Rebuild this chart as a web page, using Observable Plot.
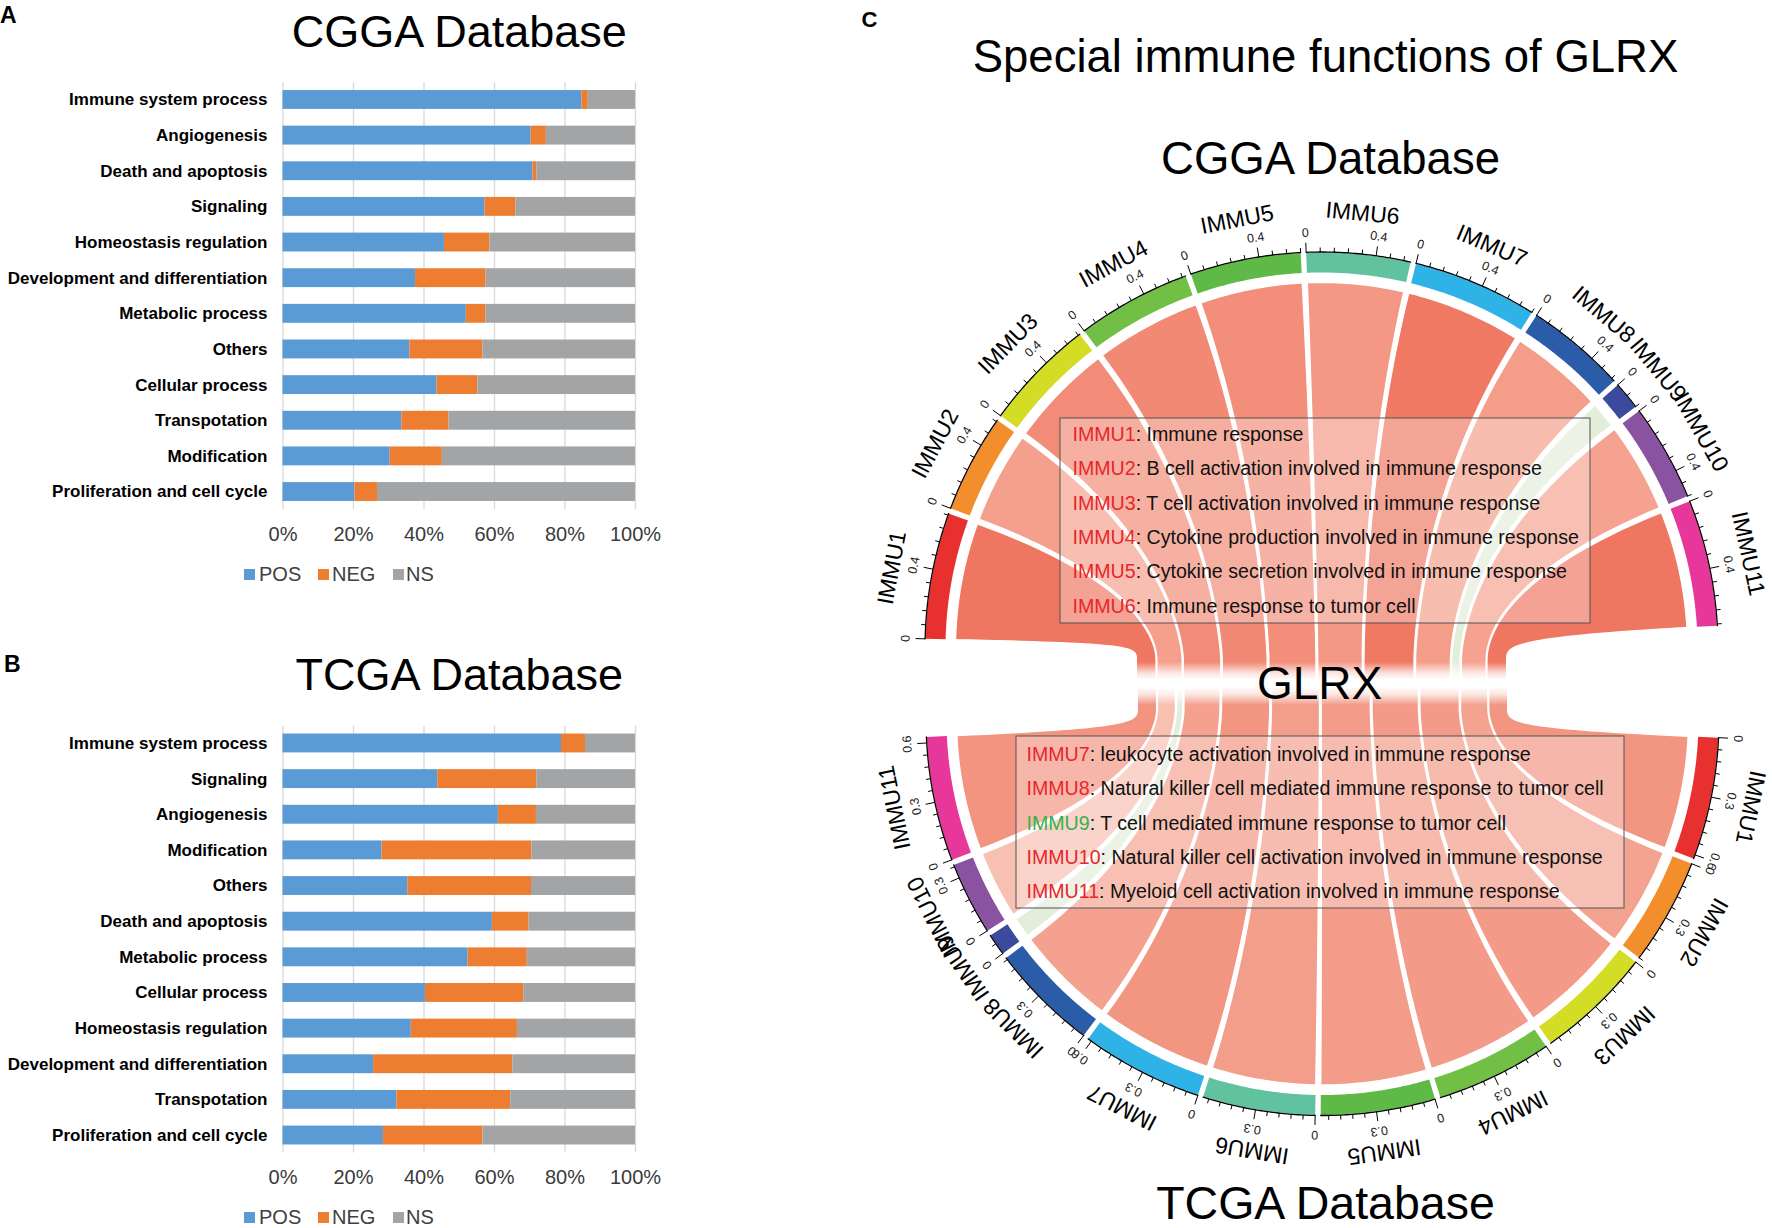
<!DOCTYPE html>
<html>
<head>
<meta charset="utf-8">
<script src="https://cdn.jsdelivr.net/npm/d3@7"></script>
<script src="https://cdn.jsdelivr.net/npm/@observablehq/plot@0.6"></script>
<style>
  html, body { margin: 0; padding: 0; background: #fff; }
  #page { position: relative; width: 1772px; height: 1228px; overflow: hidden; font-family: "Liberation Sans", Arial, Helvetica, sans-serif; background: #fff; }
  .abs { position: absolute; }
  .plabel { position: absolute; font-weight: bold; line-height: 1; color: #000; }
  .lg-sw { position: absolute; width: 11px; height: 11px; }
  .lg-tx { position: absolute; font-size: 20px; line-height: 1; color: #404040; white-space: nowrap; }
</style>
</head>
<body>
<div id="page"></div>
<script>
// ---------------- DATA ----------------
const seriesKeys = ["POS", "NEG", "NS"];
const seriesColors = ["#5b9bd5", "#ed7d31", "#a2a4a6"];
const percentTicks = [0, 20, 40, 60, 80, 100];

const cggaCategories = ["Immune system process", "Angiogenesis", "Death and apoptosis", "Signaling",
  "Homeostasis regulation", "Development and differentiation", "Metabolic process", "Others",
  "Cellular process", "Transpotation", "Modification", "Proliferation and cell cycle"];
const cggaPOS = [84.8, 70.4, 70.9, 57.3, 45.8, 37.6, 52.0, 36.0, 43.7, 33.7, 30.4, 20.4];
const cggaNEG = [1.8, 4.3, 1.1, 8.8, 12.9, 20.0, 5.6, 20.7, 11.6, 13.4, 14.8, 6.4];
const cggaNS  = [13.4, 25.3, 28.0, 33.9, 41.3, 42.4, 42.4, 43.3, 44.7, 52.9, 54.8, 73.2];

const tcgaCategories = ["Immune system process", "Signaling", "Angiogenesis", "Modification", "Others",
  "Death and apoptosis", "Metabolic process", "Cellular process", "Homeostasis regulation",
  "Development and differentiation", "Transpotation", "Proliferation and cell cycle"];
const tcgaPOS = [79.0, 43.9, 61.1, 28.1, 35.4, 59.4, 52.5, 40.4, 36.4, 25.7, 32.3, 28.5];
const tcgaNEG = [6.8, 28.1, 10.8, 42.5, 35.1, 10.4, 16.8, 27.9, 30.1, 39.5, 32.3, 28.2];
const tcgaNS  = [14.2, 28.0, 28.1, 29.4, 29.5, 30.2, 30.7, 31.7, 33.5, 34.8, 35.4, 43.3];

const immuNames = ["IMMU1", "IMMU2", "IMMU3", "IMMU4", "IMMU5", "IMMU6", "IMMU7", "IMMU8", "IMMU9", "IMMU10", "IMMU11"];
const immuDescriptions = ["Immune response", "B cell activation involved in immune response",
  "T cell activation involved in immune response", "Cytokine production involved in immune response",
  "Cytokine secretion involved in immune response", "Immune response to tumor cell",
  "leukocyte activation involved in immune response", "Natural killer cell mediated immune response to tumor cell",
  "T cell mediated immune response to tumor cell", "Natural killer cell activation involved in immune response",
  "Myeloid cell activation involved in immune response"];
const immuColors = ["#e8302e", "#f28e2b", "#d4dd25", "#72bf45", "#5fb947", "#60c29f", "#2fb2e6", "#2a5ca8", "#3c4a9e", "#8953a1", "#e8379a"];
const cggaCor = [0.73, 0.57, 0.65, 0.66, 0.64, 0.60, 0.72, 0.58, -0.16, 0.56, 0.73];
const tcgaCor = [0.62, 0.54, 0.59, 0.59, 0.58, 0.57, 0.62, 0.55, -0.11, 0.37, 0.63];
const cggaLegendItems = [0, 1, 2, 3, 4, 5];
const tcgaLegendItems = [6, 7, 8, 9, 10];

// ---------------- HELPERS ----------------
const FONT = '"Liberation Sans", Arial, Helvetica, sans-serif';
const page = document.getElementById("page");
function place(node, left, top) {
  const d = document.createElement("div");
  d.className = "abs"; d.style.left = left + "px"; d.style.top = top + "px";
  d.appendChild(node); page.appendChild(d); return d;
}
function htmlText(cls, text, left, top, extra = {}) {
  const d = document.createElement("div");
  d.className = cls; d.textContent = text;
  d.style.left = left + "px"; d.style.top = top + "px";
  Object.assign(d.style, extra);
  page.appendChild(d);
}

// ---------------- PANELS A & B ----------------
function barPanel(cfg) {
  const rows = [];
  cfg.cats.forEach((c, i) => {
    rows.push({cat: c, group: "POS", value: cfg.pos[i]});
    rows.push({cat: c, group: "NEG", value: cfg.neg[i]});
    rows.push({cat: c, group: "NS", value: cfg.ns[i]});
  });
  return Plot.plot({
    width: 660, height: cfg.height,
    marginLeft: 282.5, marginRight: 25, marginTop: cfg.marginTop, marginBottom: cfg.marginBottom,
    style: {fontFamily: FONT, background: "transparent", maxWidth: "none", overflow: "visible"},
    x: {domain: [0, 100], axis: null},
    y: {domain: cfg.cats, axis: null, paddingInner: 0.47, paddingOuter: 0.225, round: false},
    color: {domain: seriesKeys, range: seriesColors},
    marks: [
      Plot.ruleX(percentTicks, {x: d => d, stroke: "#d9d9d9", strokeWidth: 1.3}),
      Plot.barX(rows, {x: "value", y: "cat", fill: "group"}),
      Plot.text(cfg.cats, {y: d => d, text: d => d, frameAnchor: "left", textAnchor: "end", lineAnchor: "middle", dx: -15.5,
        fontSize: 17, fontWeight: "bold", fill: "#000"}),
      Plot.text(percentTicks, {x: d => d, text: d => d + "%", frameAnchor: "bottom", lineAnchor: "middle", dy: 25,
        fontSize: 20, fill: "#3a3a3a"}),
      Plot.text([cfg.title], {text: d => d, frameAnchor: "top", lineAnchor: "middle", dy: -50.4, fontSize: 45, fill: "#000"})
    ]
  });
}
function barLegend(cy) {
  const sw = [244, 318, 393], tx = [259, 332, 406];
  seriesKeys.forEach((k, i) => {
    const s = document.createElement("div");
    s.className = "lg-sw"; s.style.left = sw[i] + "px"; s.style.top = (cy - 5.5) + "px"; s.style.background = seriesColors[i];
    page.appendChild(s);
    htmlText("lg-tx", k, tx[i], cy - 9.7);
  });
}

place(barPanel({cats: cggaCategories, pos: cggaPOS, neg: cggaNEG, ns: cggaNS, title: "CGGA Database",
  height: 600, marginTop: 82, marginBottom: 91}), 0, 0);
place(barPanel({cats: tcgaCategories, pos: tcgaPOS, neg: tcgaNEG, ns: tcgaNS, title: "TCGA Database",
  height: 628, marginTop: 125.5, marginBottom: 75.5}), 0, 600);
barLegend(574);
barLegend(1217);
htmlText("plabel", "A", 0, 4.2, {fontSize: "23px"});
htmlText("plabel", "B", 4, 652.5, {fontSize: "23px"});

// ---------------- PANEL C (chord) ----------------
const rad = d => d * Math.PI / 180;
const pt = (c, r, deg) => [c[0] + r * Math.cos(rad(deg)), c[1] - r * Math.sin(rad(deg))];
function arcPts(c, r, d0, d1, n = 40) {
  const a = [];
  for (let i = 0; i <= n; i++) a.push(pt(c, r, d0 + (d1 - d0) * i / n));
  return a;
}
function cubic(p0, p1, p2, p3, n = 36) {
  const out = [];
  for (let i = 0; i <= n; i++) {
    const t = i / n, u = 1 - t;
    out.push([u*u*u*p0[0] + 3*u*u*t*p1[0] + 3*u*t*t*p2[0] + t*t*t*p3[0],
              u*u*u*p0[1] + 3*u*u*t*p1[1] + 3*u*t*t*p2[1] + t*t*t*p3[1]]);
  }
  return out;
}

const R_RIB = 366, R_IN = 376, R_OUT = 396, R_TICKLAB = 416, R_LAB = 437, R_NECK = 190;
const upperCfg = {values: cggaCor, c: [1321, 648], start: 178.6, total: 175.3, side: 1, yNeck: 660, yCut: 688, major: 0.4,
  color: d3.scaleLinear().domain([0.56, 0.73]).range(["#f5a390", "#ef7660"]).clamp(true)};
const lowerCfg = {values: tcgaCor, c: [1322, 718.5], start: -2.7, total: 174.7, side: -1, yNeck: 707, yCut: 679, major: 0.3,
  color: d3.scaleLinear().domain([0.37, 0.63]).range(["#f8c0b1", "#f29480"]).clamp(true)};

function layoutSectors(cfg) {
  const vals = cfg.values, gap = 0.8, nGap = 0.0035;
  const sum = d3.sum(vals, v => Math.abs(v));
  const k = (cfg.total - gap * (vals.length - 1)) / sum;
  const fk = (1 - nGap * (vals.length - 1)) / sum;
  let a = cfg.start, f = 0;
  return vals.map((v, i) => {
    const a0 = a, a1 = a - Math.abs(v) * k; a = a1 - gap;
    const f0 = f, f1 = f + Math.abs(v) * fk; f = f1 + nGap;
    return {i, v, a0, a1, f0, f1, k};
  });
}
function neckX(cfg, f) {
  const psi = cfg.side > 0 ? 167 - f * 154 : 13 + f * 154;
  return cfg.c[0] + R_NECK * Math.cos(rad(psi));
}
function ribbon(s, cfg) {
  const C = cfg.c;
  const edge = (P, x) => cubic(P, [P[0] + 0.5 * (C[0] - P[0]), P[1] + 0.5 * (C[1] - P[1])],
    [x, cfg.yNeck - cfg.side * 14], [x, cfg.yNeck]);
  const x0 = neckX(cfg, s.f0), x1 = neckX(cfg, s.f1);
  const P0 = pt(C, R_RIB, s.a0), P1 = pt(C, R_RIB, s.a1);
  return [...arcPts(C, R_RIB, s.a0, s.a1), ...edge(P1, x1), [x1, cfg.yCut], [x0, cfg.yCut], ...edge(P0, x0).reverse(), P0];
}

const ribbonPts = [], ringPts = [], axisPts = [], ticks = [], tickLabels = [], sectorLabels = [];
[upperCfg, lowerCfg].forEach((cfg, di) => {
  const secs = layoutSectors(cfg);
  secs.forEach(s => {
    const col = s.v < 0 ? "#e3eeda" : cfg.color(s.v);
    ribbon(s, cfg).forEach(p => ribbonPts.push({id: `rib${di}-${s.i}`, x: p[0], y: p[1], color: col}));
    [...arcPts(cfg.c, R_OUT, s.a0, s.a1), ...arcPts(cfg.c, R_IN, s.a1, s.a0)]
      .forEach(p => ringPts.push({id: `ring${di}-${s.i}`, x: p[0], y: p[1], color: immuColors[s.i]}));
    arcPts(cfg.c, R_OUT + 0.5, s.a0, s.a1).forEach(p => axisPts.push({id: `ax${di}-${s.i}`, x: p[0], y: p[1]}));
    const minor = cfg.major / 5;
    for (let j = 0; j * minor <= Math.abs(s.v) + 1e-9; j++) {
      const ang = s.a0 - j * minor * s.k, isMajor = j % 5 === 0;
      const p1 = pt(cfg.c, R_OUT + 0.5, ang), p2 = pt(cfg.c, R_OUT + (isMajor ? 10 : 5), ang);
      ticks.push({x1: p1[0], y1: p1[1], x2: p2[0], y2: p2[1]});
      if (isMajor) {
        const pl = pt(cfg.c, R_TICKLAB, ang);
        tickLabels.push({x: pl[0], y: pl[1], rot: 90 - ang, text: String(+(j * minor).toFixed(2))});
      }
    }
    const mid = (s.a0 + s.a1) / 2, pl = pt(cfg.c, R_LAB, mid);
    sectorLabels.push({x: pl[0], y: pl[1], rot: 90 - mid, text: immuNames[s.i]});
  });
});

const LEG_FS = 19.6;
const boxes = [{x1: 1060, x2: 1590, y1: 418, y2: 623}, {x1: 1016, x2: 1624, y1: 736, y2: 908}];
const ctx = document.createElement("canvas").getContext("2d");
ctx.font = `${LEG_FS}px ${FONT}`;
const legendRows = [];
cggaLegendItems.forEach((idx, j) => legendRows.push({x: 1072, y: 434 + 34.4 * j, label: immuNames[idx],
  rest: ": " + immuDescriptions[idx], color: cggaCor[idx] < 0 ? "#33b24a" : "#e8262b"}));
tcgaLegendItems.forEach((idx, j) => legendRows.push({x: 1026, y: 754 + 34.4 * j, label: immuNames[idx],
  rest: ": " + immuDescriptions[idx], color: tcgaCor[idx] < 0 ? "#33b24a" : "#e8262b"}));
legendRows.forEach(r => r.x2 = r.x + ctx.measureText(r.label).width);

const titleRows = [
  {x: 1325, y: 71 - 0.32 * 45.5, text: "Special immune functions of GLRX", size: 45.5},
  {x: 1330, y: 173 - 0.32 * 45.5, text: "CGGA Database", size: 45.5},
  {x: 1325, y: 1218 - 0.32 * 46.5, text: "TCGA Database", size: 46.5}
];
const glrxRow = [{x: 1319, y: 698 - 0.32 * 46, text: "GLRX"}];
const fadeRect = [{x1: 1126, x2: 1518, y1: 662, y2: 705}];

const chord = Plot.plot({
  width: 912, height: 1228, margin: 0,
  style: {fontFamily: FONT, background: "transparent", maxWidth: "none", overflow: "visible"},
  x: {domain: [860, 1772], range: [0, 912], axis: null},
  y: {domain: [0, 1228], range: [0, 1228], axis: null},
  color: {type: "identity"},
  marks: [
    Plot.line(ribbonPts, {x: "x", y: "y", z: "id", fill: "color", stroke: "#fff", strokeWidth: 1.3, curve: "linear"}),
    Plot.line(ringPts, {x: "x", y: "y", z: "id", fill: "color", stroke: "none", curve: "linear"}),
    Plot.line(axisPts, {x: "x", y: "y", z: "id", stroke: "#000", strokeWidth: 1.3}),
    Plot.link(ticks, {x1: "x1", y1: "y1", x2: "x2", y2: "y2", stroke: "#000", strokeWidth: 1}),
    Plot.text(tickLabels, {x: "x", y: "y", text: "text", rotate: "rot", fontSize: 12.5, fill: "#222"}),
    Plot.text(sectorLabels, {x: "x", y: "y", text: "text", rotate: "rot", fontSize: 23, fill: "#000"}),
    Plot.rect(fadeRect, {x1: "x1", x2: "x2", y1: "y1", y2: "y2", fill: "url(#glrxFade)"}),
    Plot.text(glrxRow, {x: "x", y: "y", text: "text", fontSize: 46, fill: "#000"}),
    Plot.rect(boxes, {x1: "x1", x2: "x2", y1: "y1", y2: "y2", fill: "#fff", fillOpacity: 0.32,
      stroke: "#555", strokeOpacity: 0.85, strokeWidth: 1.2}),
    Plot.text(legendRows, {x: "x", y: "y", text: "label", fill: "color", textAnchor: "start", fontSize: LEG_FS}),
    Plot.text(legendRows, {x: "x2", y: "y", text: "rest", fill: "#111", textAnchor: "start", fontSize: LEG_FS}),
    Plot.text(titleRows.filter(d => d.size === 45.5), {x: "x", y: "y", text: "text", fontSize: 45.5, fill: "#000"}),
    Plot.text(titleRows.filter(d => d.size === 46.5), {x: "x", y: "y", text: "text", fontSize: 46.5, fill: "#000"}),
    Plot.text(["C"], {x: () => 861, y: () => 19, text: d => d, textAnchor: "start", fontSize: 22, fontWeight: "bold", fill: "#000"})
  ]
});
const defs = d3.select(chord).insert("defs", ":first-child");
const grad = defs.append("linearGradient").attr("id", "glrxFade").attr("x1", 0).attr("y1", 0).attr("x2", 0).attr("y2", 1);
[[0, 0], [0.25, 0.75], [0.42, 1], [0.58, 1], [0.75, 0.75], [1, 0]].forEach(([o, a]) =>
  grad.append("stop").attr("offset", o).attr("stop-color", "#fff").attr("stop-opacity", a));
place(chord, 860, 0);
</script>
</body>
</html>
